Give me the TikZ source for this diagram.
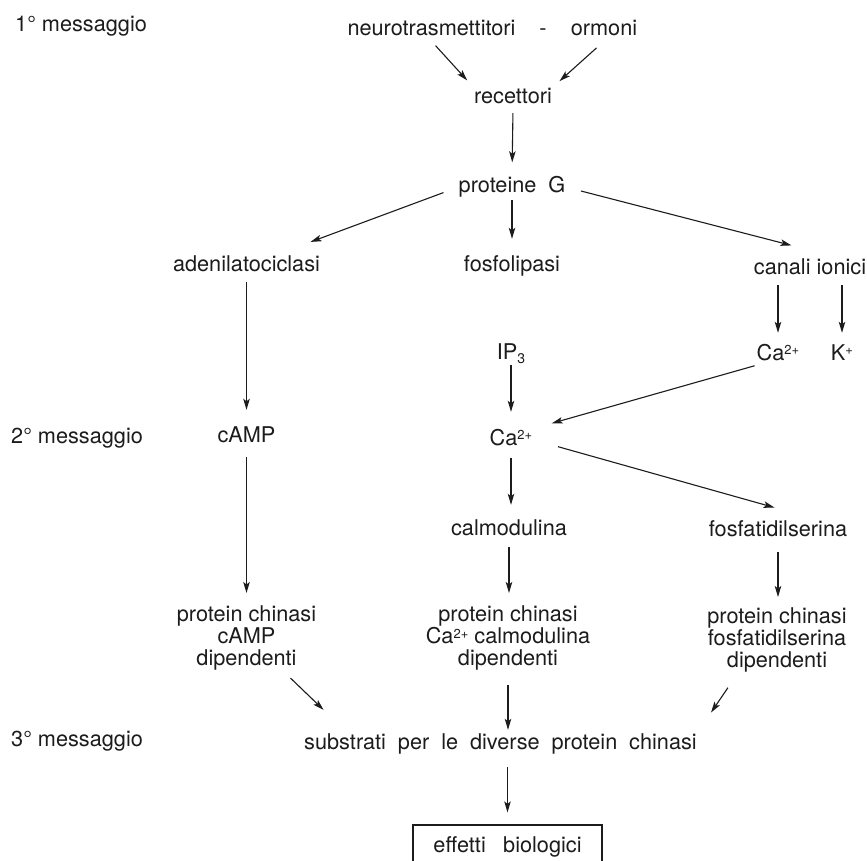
\documentclass[tikz,border=0pt]{standalone}
\usepackage{fontspec}
\setmainfont{TeX Gyre Heros}
\usetikzlibrary{arrows.meta}
\definecolor{ink}{HTML}{1C1C1C}
\newcommand{\ionsup}[1]{\raisebox{5.5pt}{\fontsize{13}{13}\selectfont #1}}
\newcommand{\ionsub}[1]{\raisebox{-4pt}{\fontsize{14}{14}\selectfont #1}}
\begin{document}
\begin{tikzpicture}[x=1pt,y=-1pt,
  lbl/.style={inner sep=0pt, anchor=base, text height=16pt, text depth=5pt, font=\fontsize{21.7}{22}\selectfont, text=ink},
  pk/.style={inner sep=0pt, anchor=north, align=center, font=\fontsize{21.7}{22}\selectfont, text=ink},
  box/.style={draw=ink, line width=1.2pt, inner sep=0pt, minimum width=189pt, minimum height=44pt, text height=16pt, text depth=5pt, font=\fontsize{21.7}{22}\selectfont, text=ink},
  arr/.style={-{Stealth[length=11pt,width=6.5pt,inset=2.5pt]}, line width=1.1pt, draw=ink}]
\useasboundingbox (0,0) rectangle (867,861);
\fill[white] (0,0) rectangle (867,861);
\node[lbl, anchor=base west] (msg1) at (15,32){1° messaggio};
\node[lbl] (neuro) at (431.5,36){neurotrasmettitori};
\node[lbl] (dash) at (543,36){-};
\node[lbl] (ormon) at (604,36){ormoni};
\node[lbl] (recet) at (513,104){recettori};
\node[lbl] (protg) at (512,192.5){proteine\hspace{.55em}G};
\node[lbl] (adenil) at (246.5,271){adenilatociclasi};
\node[lbl] (fosfol) at (512,271){fosfolipasi};
\node[lbl] (canali) at (810,274){canali ionici};
\node[lbl, anchor=base west] (msg2) at (11,443){2° messaggio};
\node[lbl] (camp) at (246.5,442){cAMP};
\node[lbl] (ipt) at (511,359){IP\ionsub{3}};
\node[lbl] (caext) at (778,360){Ca\ionsup{2+}};
\node[lbl] (kext) at (842,360){K\ionsup{+}};
\node[lbl] (caint) at (511,445){Ca\ionsup{2+}};
\node[lbl] (calmod) at (509,535){calmodulina};
\node[lbl] (fosfat) at (778,536){fosfatidilserina};
\node[pk] (pkcamp) at (246.5,605.5){protein chinasi\\cAMP\\dipendenti};
\node[pk] (pkcalm) at (508,605.5){protein chinasi\\Ca\ionsup{2+} calmodulina\\dipendenti};
\node[pk] (pkfosf) at (777,607.5){protein chinasi\\fosfatidilserina\\dipendenti};
\node[lbl, anchor=base west] (msg3) at (11,746){3° messaggio};
\node[lbl] (subst) at (500.5,749){substrati\hspace{.55em}per\hspace{.55em}le\hspace{.55em}diverse\hspace{.55em}protein\hspace{.55em}chinasi};
\node[box] (effetti) at (507.5,847){effetti\hspace{.8em}biologici};
\draw[arr, shorten <=6pt, shorten >=10pt](neuro.south) -- (recet.north west);
\draw[arr, shorten <=10pt, shorten >=10pt](ormon.south) -- (recet.north east);
\draw[arr, shorten <=4pt, shorten >=14pt](recet.south) -- (protg.north);
\draw[arr, shorten <=16pt, shorten >=37pt](protg.west) -- (adenil.20);
\draw[arr, shorten <=2.5pt, shorten >=16pt](protg.south) -- (fosfol.north);
\draw[arr, shorten <=16pt, shorten >=49.5pt](protg.east) -- (canali.20);
\draw[arr, shorten <=6pt, shorten >=16pt](adenil.south) -- (camp.north);
\draw[arr, shorten <=6pt, shorten >=11pt](canali.south -| caext.north) -- (caext.north);
\draw[arr, shorten <=6pt, shorten >=11pt](canali.south -| kext.north) -- (kext.north);
\draw[arr, shorten <=1pt, shorten >=17pt](ipt.south) -- (caint.north);
\draw[arr, shorten <=2pt, shorten >=20pt](caext.south west) -- (caint.north east);
\draw[arr, shorten <=26.5pt, shorten >=45pt](caint.east) -- (fosfat.15);
\draw[arr, shorten <=8pt, shorten >=14pt](caint.south) -- (caint.south |- calmod.north);
\draw[arr, shorten <=10pt, shorten >=12.5pt](camp.south) -- (pkcamp.north);
\draw[arr, shorten <=7pt, shorten >=12.5pt](calmod.south) -- (calmod.south |- pkcalm.north);
\draw[arr, shorten <=11pt, shorten >=10.5pt](fosfat.south) -- (fosfat.south |- pkfosf.north);
\draw[arr, shorten <=11pt, shorten >=33pt](pkcamp.-42) -- (subst.176);
\draw[arr, shorten <=15pt, shorten >=3pt](pkcalm.south) -- (pkcalm.south |- subst.north);
\draw[arr, shorten <=18.5pt, shorten >=25pt](pkfosf.-140) -- (subst.3.5);
\draw[arr, shorten <=13pt, shorten >=12pt](effetti.north |- subst.south) -- (effetti.north);
\end{tikzpicture}
\end{document}
